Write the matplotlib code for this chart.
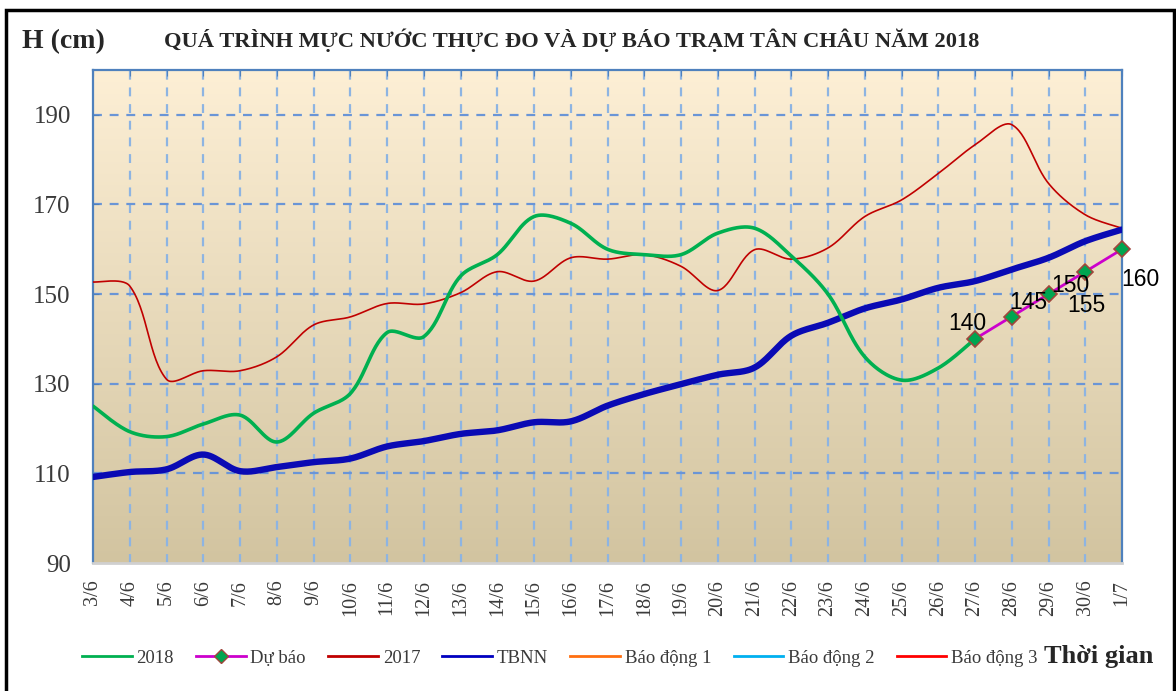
import numpy as np
import matplotlib
matplotlib.use("Agg")
import matplotlib.pyplot as plt
from matplotlib.lines import Line2D
from matplotlib.patches import Rectangle

# ---------------- data ----------------
dates = ['3/6', '4/6', '5/6', '6/6', '7/6', '8/6', '9/6', '10/6', '11/6', '12/6',
         '13/6', '14/6', '15/6', '16/6', '17/6', '18/6', '19/6', '20/6', '21/6',
         '22/6', '23/6', '24/6', '25/6', '26/6', '27/6', '28/6', '29/6', '30/6', '1/7']

h2018 = [125, 119.3, 118.2, 121, 123, 117, 123.4, 127.8, 141.4, 140.5, 154, 158.8,
         167.3, 165.8, 160, 158.8, 158.8, 163.6, 164.7, 158.5, 150, 136, 130.8,
         133.5, 140]

forecast_dates = ['27/6', '28/6', '29/6', '30/6', '1/7']
forecast = [140, 145, 150, 155, 160]

h2017 = [152.7, 151.8, 131, 132.9, 132.9, 136, 143.1, 144.9, 147.9, 147.8, 150.3,
         155, 152.9, 158.1, 157.8, 158.8, 156.2, 150.8, 159.9, 157.8, 160.3, 167.3,
         171, 176.9, 183.3, 187.8, 174.7, 167.7, 164.7]

tbnn = [109.2, 110.3, 110.9, 114.2, 110.5, 111.4, 112.5, 113.3, 116, 117.2, 118.8,
        119.6, 121.4, 121.6, 125.1, 127.7, 129.9, 132, 133.6, 140.7, 143.6, 146.8,
        148.8, 151.4, 152.9, 155.5, 158.1, 161.8, 164.4]

yticks = [90, 110, 130, 150, 170, 190]

title = 'QUÁ TRÌNH MỰC NƯỚC THỰC ĐO VÀ DỰ BÁO TRẠM TÂN CHÂU NĂM 2018'

W, H = 1176, 691
X0, X1, Y0, Y1 = 93, 1122, 70, 563  # plot area in pixels
YMIN, YMAX = 90, 200


def smooth(xs, ys, n=30):
    """Excel-like smoothed line: cubic Bezier segments whose control points
    are weighted by neighbouring segment lengths (in pixel space)."""
    sx = (X1 - X0) / (len(dates) - 1)
    sy = (Y1 - Y0) / (YMAX - YMIN)
    P = np.column_stack([np.asarray(xs, float) * sx, np.asarray(ys, float) * sy])
    m = len(P)
    d = np.hypot(*np.diff(P, axis=0).T)
    T = np.zeros_like(P)
    for i in range(m):
        a = P[i - 1] if i > 0 else P[i]
        b = P[i + 1] if i < m - 1 else P[i]
        T[i] = b - a
    out = []
    for i in range(m - 1):
        dl = d[i - 1] if i > 0 else d[i]
        dr = d[i + 1] if i + 1 < m - 1 else d[i]
        c1 = P[i] + T[i] * (d[i] / (dl + d[i])) / 3.0
        c2 = P[i + 1] - T[i + 1] * (d[i] / (d[i] + dr)) / 3.0
        t = np.linspace(0, 1, n)[:, None]
        seg = ((1 - t) ** 3) * P[i] + 3 * ((1 - t) ** 2) * t * c1 \
            + 3 * (1 - t) * t ** 2 * c2 + t ** 3 * P[i + 1]
        if i > 0:
            seg = seg[1:]
        out.append(seg)
    out = np.vstack(out)
    return out[:, 0] / sx, out[:, 1] / sy


serif = ['Liberation Serif', 'DejaVu Serif']
sans = ['Liberation Sans', 'DejaVu Sans']

fig = plt.figure(figsize=(W / 100, H / 100), dpi=100)
fig.patch.set_facecolor('white')

# outer frame
fig.patches.append(Rectangle((6 / W, -0.01), 1168 / W, 1 - 10 / H + 0.01,
                             transform=fig.transFigure, fill=False,
                             edgecolor='black', linewidth=2.5, zorder=0))

ax = fig.add_axes([X0 / W, 1 - Y1 / H, (X1 - X0) / W, (Y1 - Y0) / H])
xi = np.arange(len(dates))
ax.set_xlim(0, len(dates) - 1)
ax.set_ylim(YMIN, YMAX)

# background gradient
grad = np.linspace(0, 1, 256)[:, None]
top = np.array([253, 239, 213]) / 255
bot = np.array([210, 196, 160]) / 255
img = top[None, None, :] * (1 - grad[:, :, None]) + bot[None, None, :] * grad[:, :, None]
ax.imshow(img, extent=[0, len(dates) - 1, YMIN, YMAX], aspect='auto', zorder=0,
          origin='upper')

# grid
for x in xi[1:-1]:
    ax.axvline(x, color='#8DB4E2', lw=1.6, ls=(0, (4, 3.5)), zorder=1)
for y in yticks[1:]:
    ax.axhline(y, color='#6A95D6', lw=1.6, ls=(0, (4, 3.5)), zorder=1)

# series
x18 = xi[:len(h2018)]
sx, sy = smooth(x18, h2018)
ax.plot(sx, sy, color='#00B050', lw=2.6, zorder=4, solid_capstyle='round')

sx, sy = smooth(xi, h2017)
ax.plot(sx, sy, color='#C00000', lw=1.2, zorder=3)

sx, sy = smooth(xi, tbnn)
ax.plot(sx, sy, color='#0A0AB4', lw=4.6, zorder=3, solid_capstyle='round')

xf = [dates.index(d) for d in forecast_dates]
ax.plot(xf, forecast, color='#CC00CC', lw=2.0, zorder=5)
ax.plot(xf, forecast, ls='none', marker='D', ms=8, mfc='#00A550',
        mec='#A0463C', mew=1.2, zorder=6, clip_on=False)

offsets = [(-8, 15), (17, 14), (22, 9), (1, -34), (18, -30)]
for x, v, (dx, dy) in zip(xf, forecast, offsets):
    ax.annotate(str(v), (x, v), xytext=(dx, dy), textcoords='offset pixels',
                ha='center', va='center', fontsize=16.5, family=sans,
                color='black', zorder=7, annotation_clip=False)

# axes styling
for s in ['left', 'right', 'top']:
    ax.spines[s].set_color('#4F81BD')
    ax.spines[s].set_linewidth(1.6)
ax.spines['bottom'].set_color('#D0D0D0')
ax.spines['bottom'].set_linewidth(2)

ax.set_yticks(yticks)
ax.set_yticklabels([str(v) for v in yticks], family=serif, fontsize=18,
                   color='#3A3A3A')
ax.tick_params(axis='y', direction='in', length=4, color='#4F81BD', pad=16)

ax.set_xticks(xi)
ax.set_xticklabels(dates, rotation=90, family=serif, fontsize=14.5, color='#3A3A3A')
ax.tick_params(axis='x', which='both', bottom=False, top=True, direction='in',
               length=4, color='#4F81BD', pad=12)

# titles
fig.text(572 / W, 1 - 40 / H, title, ha='center', va='center',
         family=serif, fontsize=16.2, fontweight='bold', color='#262626')
fig.text(22 / W, 1 - 42 / H, 'H (cm)', ha='left', va='center',
         family=serif, fontsize=20, fontweight='bold', color='#262626')

# legend
handles = [
    Line2D([], [], color='#00B050', lw=2),
    Line2D([], [], color='#CC00CC', lw=2, marker='D', ms=7, mfc='#00A550', mec='#A0463C'),
    Line2D([], [], color='#C00000', lw=2),
    Line2D([], [], color='#0000C0', lw=2),
    Line2D([], [], color='#FF6F10', lw=2),
    Line2D([], [], color='#00B0F0', lw=2),
    Line2D([], [], color='#FF0000', lw=2),
]
labels = ['2018', 'Dự báo', '2017', 'TBNN', 'Báo động 1', 'Báo động 2', 'Báo động 3']
fig.legend(handles, labels, loc='center left', bbox_to_anchor=(65 / W, 1 - 658 / H),
           ncol=7, frameon=False, prop={'family': serif, 'size': 13.5},
           handlelength=2.65, handletextpad=0.25, columnspacing=1.19,
           labelcolor='#3A3A3A')
fig.text(1044 / W, 1 - 656 / H, 'Thời gian', ha='left', va='center',
         family=serif, fontsize=19, fontweight='bold', color='#262626')

fig.savefig('out.png', dpi=100)
